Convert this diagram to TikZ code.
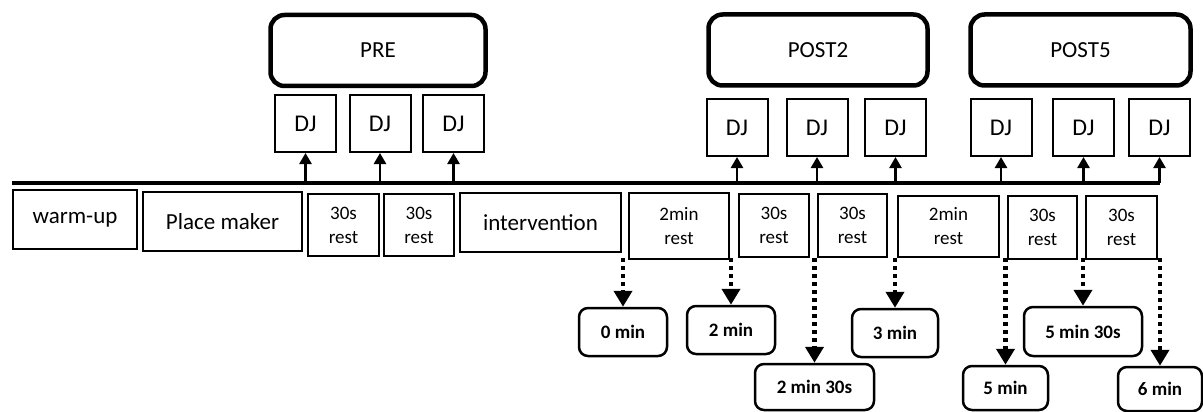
\documentclass[tikz,border=0pt]{standalone}
\usepackage{fontspec}
\setmainfont{Carlito}
\usetikzlibrary{arrows.meta}

\begin{document}
\begin{tikzpicture}[x=1pt,y=-1pt,
  phase/.style={draw,line width=4.5pt,rounded corners=14pt,inner sep=0pt,font=\fontsize{23}{27}\selectfont},
  djbox/.style={draw,line width=2pt,minimum width=61pt,minimum height=57pt,inner sep=0pt,font=\fontsize{24}{28}\selectfont},
  seg/.style={draw,line width=2pt,inner sep=0pt,align=center,font=\fontsize{23}{27}\selectfont},
  rest/.style={seg,font=\fontsize{19}{24}\selectfont},
  tbox/.style={draw,line width=2.5pt,rounded corners=9pt,inner sep=0pt,font=\bfseries\fontsize{19}{23}\selectfont},
  up/.style={line width=2.5pt,-{Triangle[width=12pt,length=11pt]}},
  down/.style={line width=4.5pt,dash pattern=on 4pt off 4pt,-{Triangle[width=18pt,length=16pt]}}]
\useasboundingbox (0,0) rectangle (1203,412);

% test phases
\node[phase,minimum width=215pt,minimum height=71pt] (pre) at (378,50.5) {PRE};
\node[phase,minimum width=219pt,minimum height=71pt] (post2) at (818,50) {POST2};
\node[phase,minimum width=220pt,minimum height=71pt] (post5) at (1080.5,50) {POST5};

% time line
\coordinate (tl0) at (12,183);
\coordinate (tl1) at (1160,183);
\draw[line width=4.5pt] (tl0) -- (tl1);

% jumps
\foreach \n/\x/\y in {a/305.5/123.5,b/380/123.5,c/453.5/123.5,d/737/127.5,e/817/127.5,f/895.5/127.5,g/1001/127.5,h/1083.5/127.5,i/1159.5/127.5}{
  \node[djbox] (dj\n) at (\x,\y) {DJ};
  \draw[up] (dj\n |- tl0) -- (dj\n);
}

% protocol
\node[seg,minimum width=124pt,minimum height=59pt] (warm) at (75,219.5) {warm-up};
\node[seg,minimum width=159pt,minimum height=59pt] (place) at (222.5,221.5) {Place maker};
\node[rest,minimum width=71pt,minimum height=62pt] (r1) at (343.5,225) {30s\\rest};
\node[rest,minimum width=70pt,minimum height=62pt] (r2) at (419,225) {30s\\rest};
\node[seg,minimum width=161pt,minimum height=59pt] (interv) at (540.5,222.5) {intervention};
\node[rest,minimum width=100pt,minimum height=66pt] (m1) at (679,226) {2min\\rest};
\node[rest,minimum width=70pt,minimum height=63pt] (r3) at (774,225.5) {30s\\rest};
\node[rest,minimum width=69pt,minimum height=63pt] (r4) at (852.5,225.5) {30s\\rest};
\node[rest,minimum width=101pt,minimum height=61pt] (m2) at (948.5,226.5) {2min\\rest};
\node[rest,minimum width=69pt,minimum height=63pt] (r5) at (1042.5,227.5) {30s\\rest};
\node[rest,minimum width=71pt,minimum height=63pt] (r6) at (1121.5,227.5) {30s\\rest};

% sampling times
\node[tbox,minimum width=88pt,minimum height=48pt] (t0) at (623,332) {0 min};
\node[tbox,minimum width=88pt,minimum height=48pt] (t2) at (731,330) {2 min};
\node[tbox,minimum width=119pt,minimum height=46pt] (t230) at (814.5,387) {2 min 30s};
\node[tbox,minimum width=86pt,minimum height=48pt] (t3) at (895,333) {3 min};
\node[tbox,minimum width=85pt,minimum height=44pt] (t5) at (1005.5,388) {5 min};
\node[tbox,minimum width=118pt,minimum height=49pt] (t530) at (1083,331.5) {5 min 30s};
\node[tbox,minimum width=84pt,minimum height=44pt] (t6) at (1160,389) {6 min};

\foreach \t in {t0,t2,t230,t3,t5,t530,t6}
  \draw[down] (\t |- 0,258) -- (\t);
\end{tikzpicture}
\end{document}
